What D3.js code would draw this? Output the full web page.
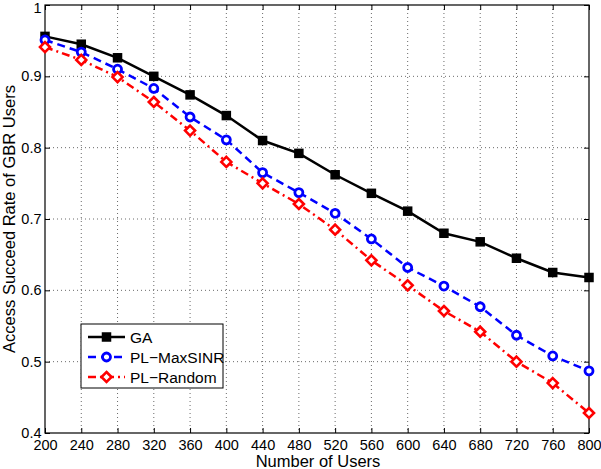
<!DOCTYPE html>
<html><head><meta charset="utf-8">
<script src="https://cdn.jsdelivr.net/npm/d3@7"></script>
<style>body{margin:0;background:#fff}svg{font-family:"Liberation Sans",Arial,sans-serif}</style>
</head><body><svg id="c" width="601" height="469"></svg>
<script>
const users = [200,240,280,320,360,400,440,480,520,560,600,640,680,720,760,800];
const gaValues = [0.956,0.945,0.926,0.900,0.874,0.845,0.810,0.792,0.762,0.736,0.711,0.680,0.668,0.645,0.625,0.618];
const maxSinrValues = [0.951,0.934,0.910,0.883,0.843,0.811,0.765,0.737,0.708,0.672,0.632,0.606,0.577,0.537,0.508,0.487];
const randomValues = [0.941,0.923,0.899,0.864,0.824,0.780,0.750,0.721,0.685,0.642,0.607,0.571,0.542,0.500,0.470,0.428];
const xTicks = [200,240,280,320,360,400,440,480,520,560,600,640,680,720,760,800];
const yTicks = [0.4,0.5,0.6,0.7,0.8,0.9,1];
const seriesNames = ["GA","PL\u2212MaxSINR","PL\u2212Random"];

const svg = d3.select("#c");
const L=45,R=589,T=5,B=433;
const x = d3.scaleLinear().domain([200,800]).range([L,R]);
const y = d3.scaleLinear().domain([0.4,1]).range([B,T]);

// grid
const g = svg.append("g");
g.selectAll(".gx").data(xTicks.slice(1,-1)).join("line")
 .attr("x1",d=>x(d)).attr("x2",d=>x(d)).attr("y1",T).attr("y2",B)
 .attr("stroke","#444").attr("stroke-width",0.8).attr("stroke-dasharray","1,3");
g.selectAll(".gy").data(yTicks.slice(1,-1)).join("line")
 .attr("y1",d=>y(d)).attr("y2",d=>y(d)).attr("x1",L).attr("x2",R)
 .attr("stroke","#444").attr("stroke-width",0.8).attr("stroke-dasharray","1,3");

// axes
const fmtY = d=> d===1?"1":d3.format(".1f")(d);
const ax = svg.append("g").attr("transform",`translate(0,${B})`).call(d3.axisBottom(x).tickValues(xTicks).tickSizeInner(-5).tickSizeOuter(0).tickPadding(7));
const ay = svg.append("g").attr("transform",`translate(${L},0)`).call(d3.axisLeft(y).tickValues(yTicks).tickFormat(fmtY).tickSizeInner(-5).tickSizeOuter(0).tickPadding(3.5));
const axT = svg.append("g").attr("transform",`translate(0,${T})`).call(d3.axisTop(x).tickValues(xTicks).tickSizeInner(-5).tickSizeOuter(0).tickFormat(""));
const ayR = svg.append("g").attr("transform",`translate(${R},0)`).call(d3.axisRight(y).tickValues(yTicks).tickSizeInner(-5).tickSizeOuter(0).tickFormat(""));
[ax,ay,axT,ayR].forEach(a=>{a.select(".domain").remove();a.selectAll("line").attr("stroke","#000");a.selectAll("text").attr("font-size",14.5).attr("fill","#000").attr("font-family","Liberation Sans, Arial, sans-serif");});
ax.selectAll("text").attr("dy","0.71em");
ay.selectAll("text").filter(d=>d===1).attr("dy","0.5em");
svg.append("rect").attr("x",L).attr("y",T).attr("width",R-L).attr("height",B-T).attr("fill","none").attr("stroke","#000").attr("stroke-width",1.2);

svg.append("text").attr("x",318).attr("y",467).attr("text-anchor","middle").attr("font-size",16.5).text("Number of Users");
svg.append("text").attr("transform",`translate(15,${(T+B)/2}) rotate(-90)`).attr("text-anchor","middle").attr("font-size",16.5).text("Access Succeed Rate of GBR Users");

const line = d3.line().x((d,i)=>x(users[i])).y(d=>y(d));
const styles = [
 {vals:gaValues,color:"#000",dash:null,marker:"square"},
 {vals:maxSinrValues,color:"#0000ff",dash:"8,5",marker:"circle"},
 {vals:randomValues,color:"#ff0000",dash:"8,4,2,4",marker:"diamond"}
];
function drawMarker(sel,type,color){
 if(type==="square"){
  sel.append("rect").attr("x",-4).attr("y",-4).attr("width",8).attr("height",8).attr("fill","#000").attr("stroke","#000").attr("stroke-width",1.5);
 } else if(type==="circle"){
  sel.append("circle").attr("r",4).attr("fill","#fff").attr("stroke",color).attr("stroke-width",2.8);
 } else {
  sel.append("path").attr("d","M0,-5L5,0L0,5L-5,0Z").attr("fill","#fff").attr("stroke",color).attr("stroke-width",2.6);
 }
}
styles.forEach(s=>{
 svg.append("path").datum(s.vals).attr("d",line).attr("fill","none").attr("stroke",s.color).attr("stroke-width",2.5).attr("stroke-dasharray",s.dash);
 svg.append("g").selectAll("g").data(s.vals).join("g").attr("transform",(d,i)=>`translate(${x(users[i])},${y(d)})`).each(function(){drawMarker(d3.select(this),s.marker,s.color);});
});

// legend
const lg = svg.append("g");
lg.append("rect").attr("x",81).attr("y",324).attr("width",142).attr("height",64).attr("fill","#fff").attr("stroke","#000").attr("stroke-width",1);
styles.forEach((s,i)=>{
 const yy = 337+i*20;
 lg.append("line").attr("x1",88).attr("x2",125).attr("y1",yy).attr("y2",yy).attr("stroke",s.color).attr("stroke-width",2.5).attr("stroke-dasharray",s.dash);
 drawMarker(lg.append("g").attr("transform",`translate(106.5,${yy})`),s.marker,s.color);
 lg.append("text").attr("x",130).attr("y",yy+5.5).attr("font-size",15.5).text(seriesNames[i]);
});
</script></body></html>
